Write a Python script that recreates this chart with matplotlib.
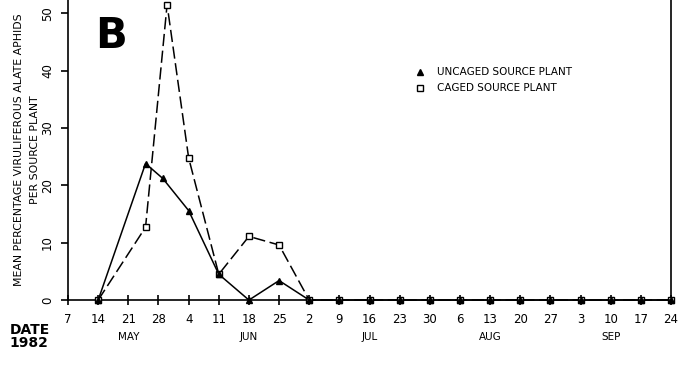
import numpy as np
import matplotlib.pyplot as plt
from datetime import date

# ----------------------------
# Data
# ----------------------------
start = date(1982, 5, 7)

weekly_zero_dates = ["07-02", "07-09", "07-16", "07-23", "07-30", "08-06", "08-13",
                     "08-20", "08-27", "09-03", "09-10", "09-17", "09-24"]

uncaged_dates = ["05-14", "05-25", "05-29", "06-04", "06-11", "06-18", "06-25"] + weekly_zero_dates
uncaged_vals = [0, 23.8, 21.2, 15.6, 4.5, 0, 3.4] + [0] * len(weekly_zero_dates)

caged_dates = ["05-14", "05-25", "05-30", "06-04", "06-11", "06-18", "06-25"] + weekly_zero_dates
caged_vals = [0, 12.7, 51.5, 24.8, 4.5, 11.1, 9.6] + [0] * len(weekly_zero_dates)

tick_labels = ["7", "14", "21", "28", "4", "11", "18", "25", "2", "9", "16", "23",
               "30", "6", "13", "20", "27", "3", "10", "17", "24"]
month_names = ["MAY", "JUN", "JUL", "AUG", "SEP"]
month_label_dates = ["05-21", "06-18", "07-16", "08-13", "09-10"]


def days(md):
    m, d = md.split("-")
    return (date(1982, int(m), int(d)) - start).days


ux = [days(d) for d in uncaged_dates]
cx = [days(d) for d in caged_dates]

# ----------------------------
# Plot
# ----------------------------
fig = plt.figure(figsize=(6.92, 3.70), dpi=100)
ax = fig.add_axes([0.0983, 0.189, 0.8714, 0.811])

ax.plot(cx, caged_vals, color="black", lw=1.1, dashes=(8, 3),
        marker="s", ms=5, mfc="white", mec="black", mew=1.0,
        clip_on=False, zorder=3)
ax.plot(ux, uncaged_vals, color="black", lw=1.1,
        marker="^", ms=4.5, mfc="black", mec="black",
        clip_on=False, zorder=4)

ax.set_xlim(0, 140)
ax.set_ylim(0, 52.3)
ax.set_xticks(np.arange(0, 141, 7))
ax.set_xticklabels(tick_labels, fontsize=8.5)
ax.set_yticks([0, 10, 20, 30, 40, 50])
ax.set_yticklabels(["0", "10", "20", "30", "40", "50"], rotation=90, va="center", fontsize=8.5)
ax.tick_params(axis="x", direction="inout", length=7, width=1.2, pad=6)
ax.tick_params(axis="y", direction="out", length=5, width=1.2, pad=5)

ax.spines["top"].set_visible(False)
for s in ["left", "bottom", "right"]:
    ax.spines[s].set_linewidth(1.2)

ax.set_ylabel("MEAN PERCENTAGE VIRULIFEROUS ALATE APHIDS\nPER SOURCE PLANT",
              fontsize=7.8, labelpad=1, linespacing=1.7)

# month labels under tick labels
for name, md in zip(month_names, month_label_dates):
    ax.text(days(md), -0.105, name, transform=ax.get_xaxis_transform(),
            ha="center", va="top", fontsize=7.5)

fig.text(0.014, 0.128, "DATE\n1982", fontsize=10, fontweight="semibold",
         ha="left", va="top", linespacing=0.95)
fig.text(0.138, 0.96, "B", fontsize=30, fontweight="bold", ha="left", va="top")

# legend drawn as text + marker
lx, ly = 0.607, 0.805
fig.lines.append(plt.Line2D([lx], [ly], marker="^", ms=5, color="black",
                            transform=fig.transFigure, ls="none"))
fig.lines.append(plt.Line2D([lx], [ly - 0.042], marker="s", ms=5, mfc="white",
                            mec="black", transform=fig.transFigure, ls="none"))
fig.text(lx + 0.025, ly, "UNCAGED SOURCE PLANT", fontsize=7.5, va="center")
fig.text(lx + 0.025, ly - 0.042, "CAGED SOURCE PLANT", fontsize=7.5, va="center")

fig.savefig("out.png", dpi=100)
